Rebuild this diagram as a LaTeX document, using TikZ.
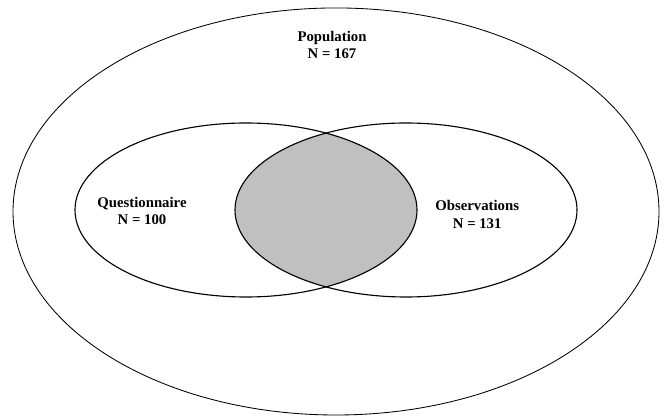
\documentclass[tikz,border=0pt]{standalone}
\usepackage{fontspec}
\setmainfont{Liberation Serif}
\usepackage{tikz}
\usetikzlibrary{positioning}
\definecolor{silverfill}{RGB}{192, 192, 192}

\tikzset{
    setlabel/.style={align=center, font=\fontsize{10.5}{12.5}\selectfont\bfseries, inner sep=1pt},
    outerset/.style={draw=black, semithick},
    innerset/.style={draw=black, thick}
}

\begin{document}
\begin{tikzpicture}
            \useasboundingbox                                              ( 0.00, 0.00) rectangle (16.60,10.425);
            \begin{scope}
                \clip                                                      ( 6.15, 5.175) ellipse   (4.275 and 2.175);
                \fill[silverfill]                                          (10.15, 5.175) ellipse   (4.275 and 2.175);
            \end{scope}
            \draw[outerset]                                                ( 8.40, 5.138) ellipse   (8.075 and 5.088);
            \draw[innerset]                                                ( 6.15, 5.175) ellipse   (4.275 and 2.175);
            \draw[innerset]                                                (10.15, 5.175) ellipse   (4.275 and 2.175);
            \node[setlabel] (population)    at ( 8.30, 9.30) {Population\\N = 167};
            \node[setlabel] (questionnaire) at ( 3.55, 5.15) {Questionnaire\\N = 100};
            \node[setlabel] (observations)  at (11.93, 5.07) {Observations\\N = 131};
        \end{tikzpicture}
\end{document}
